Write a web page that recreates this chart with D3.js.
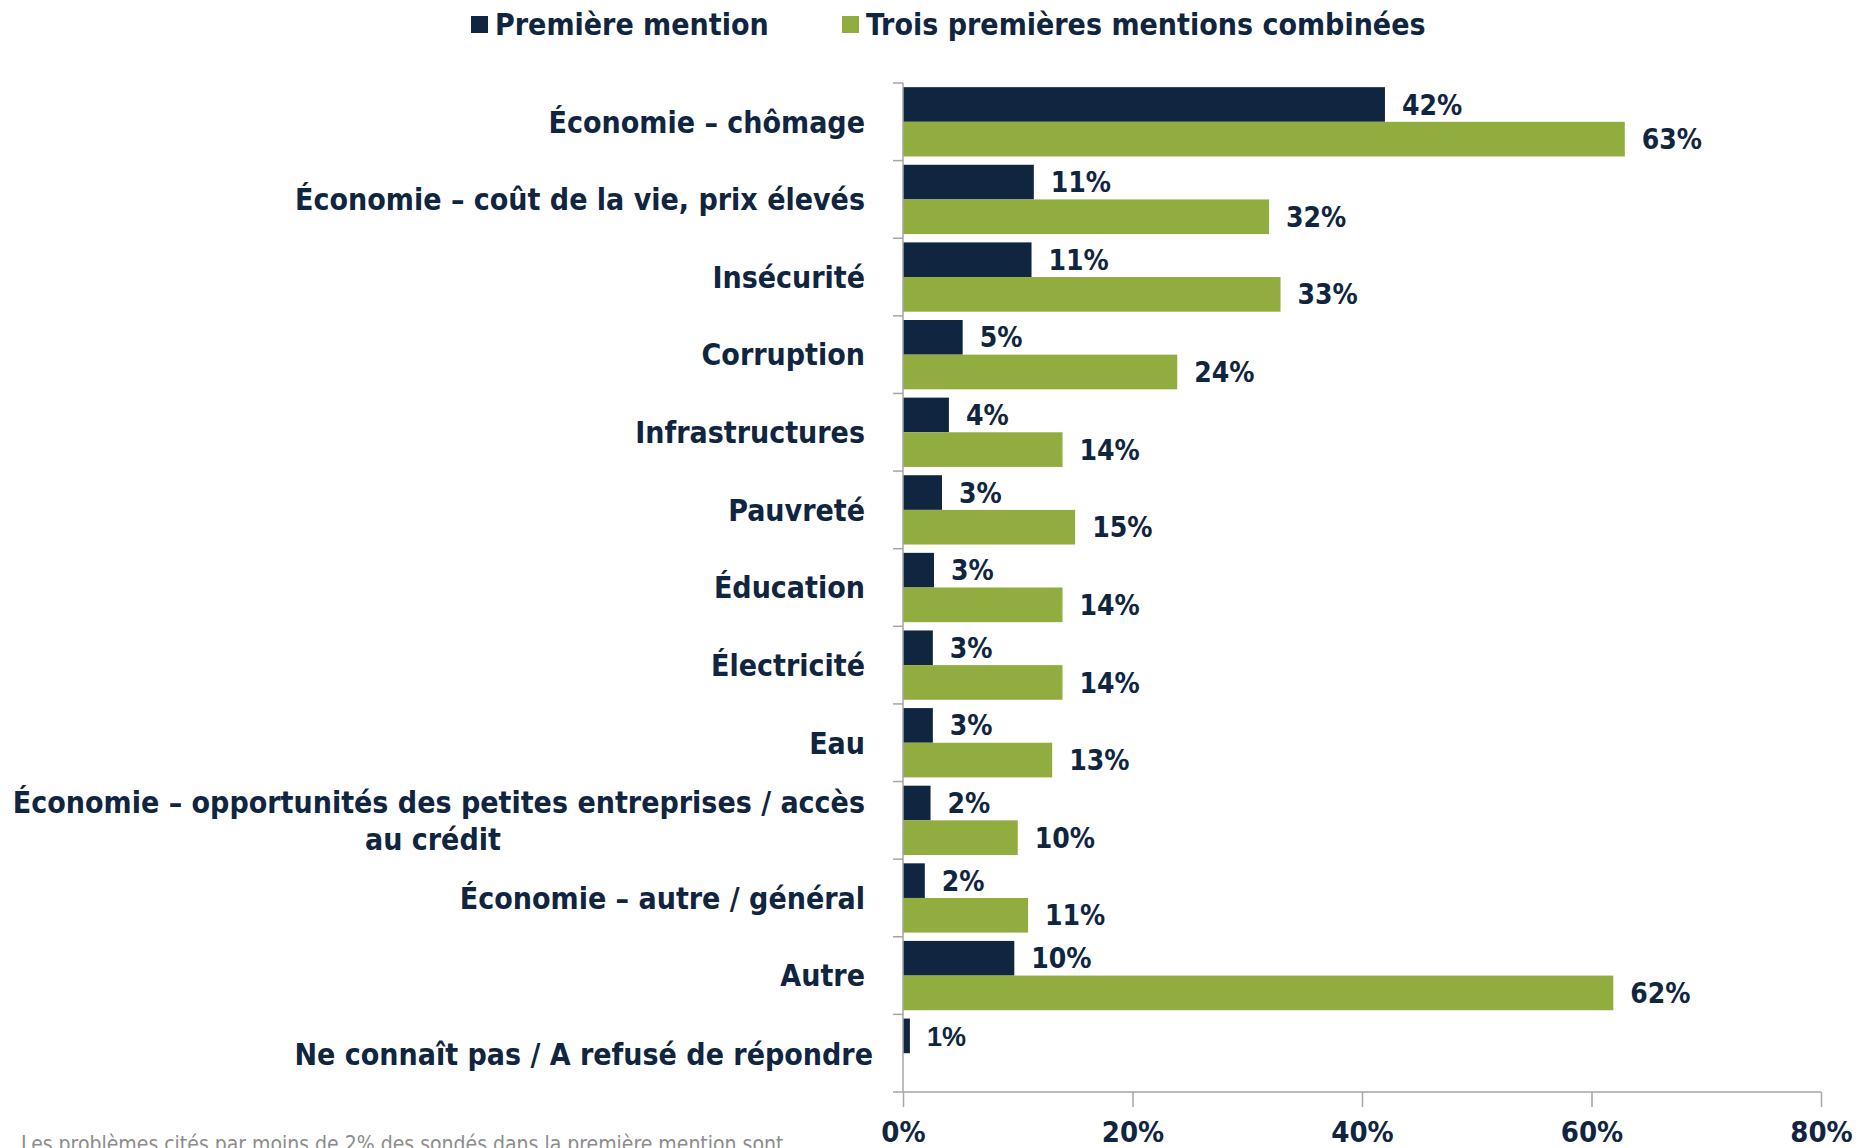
<!DOCTYPE html>
<html>
<head>
<meta charset="utf-8">
<script src="https://cdn.jsdelivr.net/npm/d3@7"></script>
<style>
  html, body { margin: 0; padding: 0; background: #fff; }
  svg { display: block; }
</style>
</head>
<body>
<div id="chart"></div>
<script>
// data
const categories = [
  "Économie – chômage",
  "Économie – coût de la vie, prix élevés",
  "Insécurité",
  "Corruption",
  "Infrastructures",
  "Pauvreté",
  "Éducation",
  "Électricité",
  "Eau",
  "Économie – opportunités des petites entreprises / accès|au crédit",
  "Économie – autre / général",
  "Autre",
  "Ne connaît pas / A refusé de répondre"
];
const premiereMention = [42.0, 11.4, 11.2, 5.2, 4.0, 3.4, 2.7, 2.6, 2.6, 2.4, 1.9, 9.7, 0.6];
const troisMentions = [62.9, 31.9, 32.9, 23.9, 13.9, 15.0, 13.9, 13.9, 13.0, 10.0, 10.9, 61.9, null];
const seriesNames = ["Première mention", "Trois premières mentions combinées"];
const xTicks = [0, 20, 40, 60, 80];
const footnote = "Les problèmes cités par moins de 2% des sondés dans la première mention sont";

const width = 1870, height = 1148;
const margin = { top: 83, left: 903, right: 49, bottom: 56 };
const innerW = width - margin.left - margin.right;
const innerH = height - margin.top - margin.bottom;

const navy = "#10253f";
const green = "#92ad3f";
const axisGrey = "#a6a6a6";
const mainFont = "'DejaVu Sans Condensed', 'DejaVu Sans', sans-serif";
const altFont = "'Liberation Sans', Arial, sans-serif";

const svg = d3.select("#chart").append("svg")
  .attr("width", width)
  .attr("height", height);

const g = svg.append("g")
  .attr("transform", `translate(${margin.left},${margin.top})`);

const x = d3.scaleLinear().domain([0, 80]).range([0, innerW]);
const y = d3.scaleBand().domain(categories).range([0, innerH]).padding(0);
const ySub = d3.scaleBand().domain([0, 1]).range([0, y.bandwidth()])
  .paddingInner(0).paddingOuter(0.12);

const rows = categories.map((c, i) => ({
  cat: c, i,
  vals: [premiereMention[i], troisMentions[i]]
}));

// bars
const colors = [navy, green];
const rowG = g.selectAll("g.row").data(rows).join("g")
  .attr("class", "row")
  .attr("transform", d => `translate(0,${y(d.cat)})`);

rowG.each(function (d) {
  const sel = d3.select(this);
  const isLast = d.i === categories.length - 1;
  d.vals.forEach((v, k) => {
    if (v == null) return;
    sel.append("rect")
      .attr("x", 0)
      .attr("y", ySub(k))
      .attr("width", x(v))
      .attr("height", ySub.bandwidth())
      .attr("fill", colors[k]);
    sel.append("text")
      .attr("x", x(v) + 17)
      .attr("y", ySub(k) + ySub.bandwidth() / 2)
      .attr("dy", "0.36em")
      .attr("fill", navy)
      .style("font-family", isLast ? altFont : mainFont)
      .style("font-weight", "bold")
      .style("font-size", isLast ? "27px" : "28px")
      .text(Math.round(v) + "%");
  });
});

// category labels
rowG.each(function (d) {
  const sel = d3.select(this);
  const isLast = d.i === categories.length - 1;
  const lines = d.cat.split("|");
  const cy = y.bandwidth() / 2;
  const t = sel.append("text")
    .attr("x", isLast ? -30 : -38)
    .attr("fill", navy)
    .attr("text-anchor", "end")
    .style("font-family", mainFont)
    .style("font-weight", "bold")
    .style("font-size", "30px");
  if (lines.length === 1) {
    t.attr("y", isLast ? cy + 1 : cy).attr("dy", "0.36em").text(lines[0]);
  } else {
    t.attr("y", cy - 18).attr("dy", "0.36em").text(lines[0]);
    const w = t.node().getComputedTextLength();
    sel.append("text")
      .attr("x", -38 - w / 2 - 6)
      .attr("y", cy + 19)
      .attr("dy", "0.36em")
      .attr("text-anchor", "middle")
      .attr("fill", navy)
      .style("font-family", mainFont)
      .style("font-weight", "bold")
      .style("font-size", "30px")
      .text(lines[1]);
  }
});

// y axis line + boundary ticks
g.append("line")
  .attr("x1", 0).attr("x2", 0)
  .attr("y1", 0).attr("y2", innerH)
  .attr("stroke", axisGrey).attr("stroke-width", 1.5);

g.selectAll("line.ytick").data(categories).join("line")
  .attr("class", "ytick")
  .attr("x1", -10).attr("x2", 0)
  .attr("y1", d => y(d)).attr("y2", d => y(d))
  .attr("stroke", axisGrey).attr("stroke-width", 1.5);

// x axis
const xAxis = d3.axisBottom(x)
  .tickValues(xTicks)
  .tickSize(15)
  .tickPadding(14)
  .tickFormat(d => d + "%");

const xg = g.append("g")
  .attr("transform", `translate(0,${innerH})`)
  .call(xAxis);
xg.select(".domain").attr("stroke", axisGrey).attr("stroke-width", 1.5)
  .attr("d", `M-10,0H${innerW}`);
xg.selectAll(".tick line").attr("stroke", axisGrey).attr("stroke-width", 1.5);
xg.selectAll(".tick text")
  .attr("fill", navy)
  .style("font-family", mainFont)
  .style("font-weight", "bold")
  .style("font-size", "29px");

// legend
const legend = svg.append("g");
const legendPos = [471, 842];
seriesNames.forEach((name, k) => {
  legend.append("rect")
    .attr("x", legendPos[k]).attr("y", 16)
    .attr("width", 17).attr("height", 17)
    .attr("fill", colors[k]);
  legend.append("text")
    .attr("x", legendPos[k] + 24).attr("y", 35)
    .attr("fill", navy)
    .style("font-family", mainFont)
    .style("font-weight", "bold")
    .style("font-size", "30px")
    .text(name);
});

// footnote (cut at the bottom edge, as in the source)
svg.append("text")
  .attr("x", 21).attr("y", 1151)
  .attr("fill", "#8c8c8c")
  .style("font-family", mainFont)
  .style("font-size", "21px")
  .text(footnote);
</script>
</body>
</html>
